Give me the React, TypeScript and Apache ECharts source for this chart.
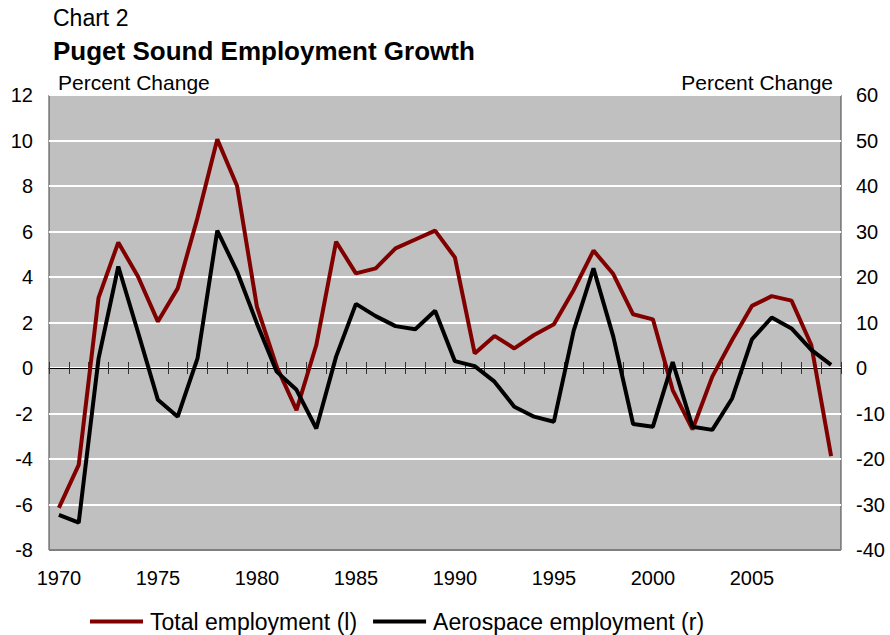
import React, { useEffect, useRef } from "react";
import * as echarts from "echarts";

const years: string[] = [];
for (let y = 1970; y <= 2009; y++) years.push(String(y));

const totalEmployment = [
  -6.15, -4.26, 3.08, 5.52, 4.01, 2.04, 3.5, 6.6, 10.05, 8.0,
  2.7, 0.06, -1.85, 1.01, 5.55, 4.16, 4.38, 5.26, 5.65, 6.04,
  4.86, 0.64, 1.41, 0.86, 1.45, 1.92, 3.43, 5.16, 4.13, 2.36,
  2.14, -0.97, -2.7, -0.38, 1.23, 2.73, 3.16, 2.96, 1.01, -3.87,
];

const aerospaceEmployment = [
  -32.3, -34.0, 2.0, 22.3, 7.8, -7.0, -10.7, 2.1, 30.2, 21.2,
  9.8, -0.8, -4.8, -13.3, 2.5, 14.1, 11.4, 9.2, 8.5, 12.6,
  1.5, 0.4, -3.0, -8.5, -10.7, -11.8, 8.2, 21.9, 6.9, -12.3,
  -12.9, 1.3, -12.9, -13.6, -6.7, 6.3, 11.1, 8.7, 4.0, 0.7,
];

const FONT = "'Liberation Sans', Arial, sans-serif";

export default function App() {
  const ref = useRef<HTMLDivElement>(null);
  useEffect(() => {
    if (!ref.current) return;
    const chart = echarts.init(ref.current, null, { renderer: "svg" });
    const labelStyle = { color: "#000", fontSize: 20, fontFamily: FONT };
    chart.setOption({
      animation: false,
      backgroundColor: "#fff",
      textStyle: { fontFamily: FONT },
      grid: {
        left: 49,
        right: 49,
        top: 95,
        bottom: 85,
        show: true,
        backgroundColor: "#C0C0C0",
        borderColor: "#404040",
        borderWidth: 1,
      },
      graphic: [
        { type: "text", left: 53, top: 6, style: { text: "Chart 2", font: `23px ${FONT}`, fill: "#000" } },
        { type: "text", left: 53, top: 38, style: { text: "Puget Sound Employment Growth", font: `bold 26px ${FONT}`, fill: "#000" } },
        { type: "text", left: 58, top: 72, style: { text: "Percent Change", font: `21px ${FONT}`, fill: "#000" } },
        { type: "text", right: 57, top: 72, style: { text: "Percent Change", font: `21px ${FONT}`, fill: "#000" } },
        {
          type: "line",
          shape: { x1: 49, y1: 550, x2: 841, y2: 550 },
          style: { stroke: "#808080", lineWidth: 2 },
          z: 10,
        },
      ],
      legend: {
        left: 85,
        top: 605,
        icon: "rect",
        itemWidth: 53,
        itemHeight: 4,
        itemGap: 16,
        textStyle: { color: "#000", fontSize: 23, fontFamily: FONT, padding: [0, 0, 0, 2] },
        data: ["Total employment (l)", "Aerospace employment (r)"],
      },
      xAxis: [
        {
          type: "category",
          data: years,
          position: "bottom",
          boundaryGap: true,
          axisLine: { show: false, onZero: false },
          axisTick: { show: false },
          axisLabel: { ...labelStyle, interval: 4, margin: 18 },
          splitLine: { show: false },
        },
        {
          type: "category",
          data: years,
          position: "bottom",
          boundaryGap: true,
          axisLine: { show: true, onZero: true, onZeroAxisIndex: 0, lineStyle: { color: "#000", width: 1 } },
          axisTick: { show: true, interval: 0, length: 6, lineStyle: { color: "#333", width: 1 } },
          axisLabel: { show: false },
          splitLine: { show: false },
        },
        {
          type: "category",
          data: years,
          position: "bottom",
          boundaryGap: true,
          axisLine: { show: false, onZero: true, onZeroAxisIndex: 0 },
          axisTick: { show: true, inside: true, interval: 0, length: 6, lineStyle: { color: "#333", width: 1 } },
          axisLabel: { show: false },
          splitLine: { show: false },
        },
      ],
      yAxis: [
        {
          type: "value",
          min: -8,
          max: 12,
          interval: 2,
          position: "left",
          axisLine: { show: false },
          axisTick: { show: false },
          axisLabel: { ...labelStyle, margin: 16 },
          splitLine: { show: true, lineStyle: { color: "#fff", width: 2 } },
        },
        {
          type: "value",
          min: -40,
          max: 60,
          interval: 10,
          position: "right",
          axisLine: { show: false },
          axisTick: { show: false },
          axisLabel: { ...labelStyle, margin: 15 },
          splitLine: { show: false },
        },
      ],
      series: [
        {
          name: "Total employment (l)",
          type: "line",
          xAxisIndex: 0,
          yAxisIndex: 0,
          data: totalEmployment,
          symbol: "none",
          color: "#800000",
          lineStyle: { color: "#800000", width: 4 },
          z: 3,
        },
        {
          name: "Aerospace employment (r)",
          type: "line",
          xAxisIndex: 0,
          yAxisIndex: 1,
          data: aerospaceEmployment,
          symbol: "none",
          color: "#000",
          lineStyle: { color: "#000", width: 4 },
          z: 4,
        },
      ],
    });
    return () => chart.dispose();
  }, []);
  return <div ref={ref} style={{ width: 890, height: 635, position: "fixed", left: 0, top: 0 }} />;
}
